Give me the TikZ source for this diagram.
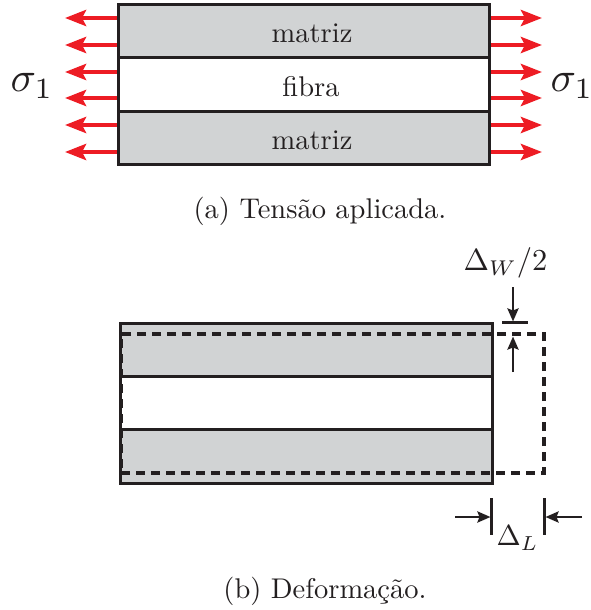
\RequirePackage{fix-cm}
\documentclass[tikz,border=0pt]{standalone}
\usepackage{fontspec}
\usepackage{graphicx}
\usetikzlibrary{arrows.meta}
\definecolor{arrred}{HTML}{ED1C24}
\definecolor{bandgray}{HTML}{D1D3D4}
\definecolor{ink}{HTML}{231F20}
\newcommand{\sctxt}[2]{\scalebox{#1}{\fontsize{10}{12}\selectfont #2}}
\tikzset{
  band/.style={draw=ink, line width=3pt, inner sep=0pt, outer sep=0pt},
  topband/.style={band, minimum width=371pt, minimum height=53pt},
  botband/.style={band, minimum width=372pt, minimum height=53.33pt},
  lbl/.style={inner sep=0pt, text=ink},
  redarrow/.style={draw=arrred, line width=4.5pt, -{Stealth[length=21pt,width=16pt,inset=4pt]}},
  dimarrow/.style={draw=ink, line width=2.8pt, -{Stealth[length=13pt,width=11pt,inset=2pt]}},
  tickline/.style={draw=ink, line width=2.8pt},
  deform/.style={draw=ink, line width=4.5pt, dash pattern=on 9pt off 6pt, inner sep=0pt, outer sep=0pt},
}
\begin{document}
\begin{tikzpicture}[x=1pt,y=-1pt]
\useasboundingbox (0,0) rectangle (590,610);
% ---- (a) applied stress ----
\foreach \i/\yy in {1/18,2/45,3/72,4/98,5/125,6/152}{
  \coordinate (la\i) at (118,\yy);
  \coordinate (lt\i) at (65,\yy);
  \coordinate (ra\i) at (489,\yy);
  \coordinate (rt\i) at (542,\yy);
  \draw[redarrow] (la\i) -- (lt\i);
  \draw[redarrow] (ra\i) -- (rt\i);
}
\node[topband, fill=bandgray] (m1) at (303.5,31.5) {};
\node[topband, fill=white] (f1) at (303.5,84.5) {};
\node[topband, fill=bandgray] (m2) at (303.5,137.5) {};
\node[lbl, anchor=base] (tm1) at (312,43) {\sctxt{2.85}{matriz}};
\node[lbl, anchor=base] (tf1) at (311,96.5) {\sctxt{2.85}{fibra}};
\node[lbl, anchor=base] (tm2) at (312,149) {\sctxt{2.85}{matriz}};
\node[lbl] (sl) at (32,86) {\sctxt{4.2}{$\sigma_1$}};
\node[lbl] (sr) at (572,86) {\sctxt{4.2}{$\sigma_1$}};
\node[lbl, anchor=base] (capa) at (320,218) {\sctxt{2.85}{(a) Tensão aplicada.}};
% ---- (b) deformation ----
\node[botband, fill=bandgray] (b1) at (306,349.67) {};
\node[botband, fill=white] (b2) at (306,403) {};
\node[botband, fill=bandgray] (b3) at (306,456.33) {};
\node[deform, minimum width=423pt, minimum height=139pt] (def) at (332.5,403.5) {};
% Delta W / 2
\coordinate (wbarl) at (502,322.5);
\coordinate (wbarr) at (528,322.5);
\draw[tickline] (wbarl) -- (wbarr);
\coordinate (wt0) at (513,287);
\coordinate (wt1) at (513,321.5);
\coordinate (wb0) at (513,372);
\coordinate (wb1) at (513,336.5);
\draw[dimarrow] (wt0) -- (wt1);
\draw[dimarrow] (wb0) -- (wb1);
\node[lbl] (dw) at (505.5,263) {\sctxt{3.05}{$\Delta_W/2$}};
% Delta L
\coordinate (lk1a) at (491.7,498);
\coordinate (lk1b) at (491.7,535);
\coordinate (lk2a) at (544.3,498);
\coordinate (lk2b) at (544.3,535);
\draw[tickline] (lk1a) -- (lk1b);
\draw[tickline] (lk2a) -- (lk2b);
\coordinate (dl0) at (455,517);
\coordinate (dl1) at (490.5,517);
\coordinate (dr0) at (582,517);
\coordinate (dr1) at (545.5,517);
\draw[dimarrow] (dl0) -- (dl1);
\draw[dimarrow] (dr0) -- (dr1);
\node[lbl] (dlab) at (517.5,538) {\sctxt{2.9}{$\Delta_L$}};
\node[lbl, anchor=base] (capb) at (325,598) {\sctxt{2.85}{(b) Deformação.}};
\end{tikzpicture}
\end{document}
